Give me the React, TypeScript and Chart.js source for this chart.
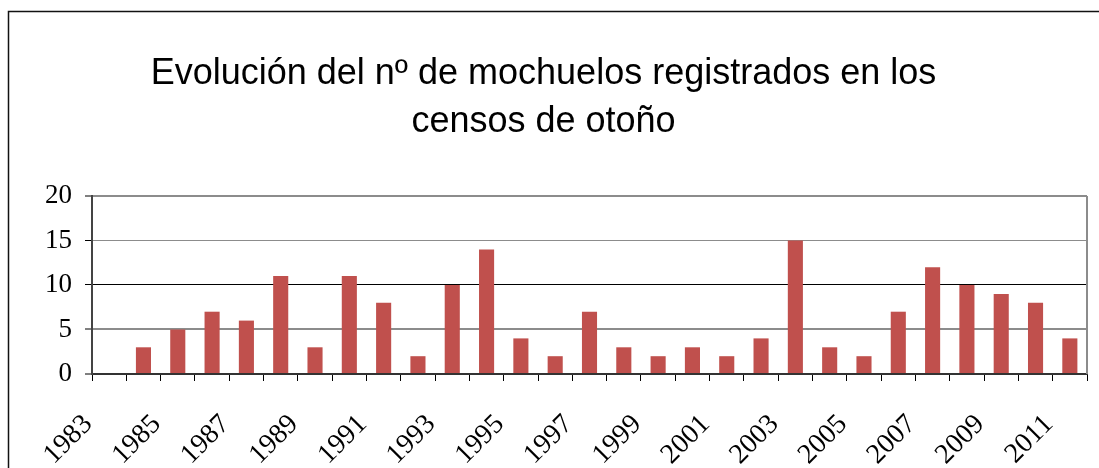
import { useEffect, useRef } from 'react';
import { Chart, registerables } from 'chart.js';

Chart.register(...registerables);

const years = [
  '1983', '1984', '1985', '1986', '1987', '1988', '1989', '1990', '1991', '1992',
  '1993', '1994', '1995', '1996', '1997', '1998', '1999', '2000', '2001', '2002',
  '2003', '2004', '2005', '2006', '2007', '2008', '2009', '2010', '2011',
];
const counts: (number | null)[] = [
  null, 3, 5, 7, 6, 11, 3, 11, 8, 2,
  10, 14, 4, 2, 7, 3, 2, 3, 2, 4,
  15, 3, 2, 7, 12, 10, 9, 8, 4,
];
const titleLines = ['Evolución del nº de mochuelos registrados en los', 'censos de otoño'];
const yMin = 0;
const yMax = 20;
const yStep = 5;

const frame = {
  id: 'frame',
  beforeDraw(chart: any) {
    const { ctx, width, height } = chart;
    ctx.save();
    ctx.fillStyle = '#fff';
    ctx.fillRect(0, 0, width, height);
    ctx.strokeStyle = '#111';
    ctx.lineWidth = 1.5;
    ctx.beginPath();
    ctx.moveTo(8.5, height + 2);
    ctx.lineTo(8.5, 11.5);
    ctx.lineTo(width + 2, 11.5);
    ctx.stroke();
    ctx.restore();
  },
  afterDraw(chart: any) {
    const { ctx, chartArea } = chart;
    ctx.save();
    ctx.strokeStyle = '#8c8c8c';
    ctx.lineWidth = 2;
    ctx.beginPath();
    ctx.moveTo(chartArea.right, chartArea.top);
    ctx.lineTo(chartArea.right, chartArea.bottom);
    ctx.stroke();
    ctx.restore();
  },
};

export default function App() {
  const ref = useRef<HTMLCanvasElement | null>(null);
  useEffect(() => {
    if (!ref.current) return;
    const chart = new Chart(ref.current, {
      type: 'bar',
      data: {
        labels: years,
        datasets: [
          {
            data: counts,
            backgroundColor: '#C0504D',
            borderWidth: 0,
            barPercentage: 0.44,
            categoryPercentage: 1,
          },
        ],
      },
      options: {
        animation: false,
        responsive: false,
        layout: { padding: { left: 0, right: 12, top: 0, bottom: 0 } },
        plugins: {
          legend: { display: false },
          tooltip: { enabled: false },
          title: {
            display: true,
            text: titleLines,
            color: '#000',
            font: { family: '"Liberation Sans", Arial, sans-serif', size: 36, weight: 'normal', lineHeight: 1.3333 },
            padding: { top: 50, bottom: 50 },
          },
        },
        scales: {
          x: {
            grid: {
              offset: true,
              drawOnChartArea: false,
              drawTicks: true,
              tickLength: 7,
              tickColor: '#000',
              tickWidth: 1,
            },
            border: { display: true, color: '#333', width: 2 },
            ticks: {
              autoSkip: false,
              minRotation: 45,
              maxRotation: 45,
              padding: 27,
              labelOffset: -21,
              color: '#000',
              font: { family: '"Liberation Serif", "Times New Roman", serif', size: 28 },
              callback: (_v: any, i: number) => (i % 2 === 0 ? years[i] : ''),
            },
            afterFit: (s: any) => {
              s.height = 94;
              s.paddingLeft = 0;
              s.paddingRight = 0;
            },
          },
          y: {
            min: yMin,
            max: yMax,
            grid: {
              color: (c: any) => (c.tick && c.tick.value === 10 ? '#000' : '#8c8c8c'),
              lineWidth: (c: any) => (c.tick && (c.tick.value === 10 || c.tick.value === 15) ? 1 : 2),
              drawTicks: true,
              tickLength: 7,
              tickColor: '#000',
              tickWidth: 1,
            },
            border: { display: true, color: '#444', width: 2 },
            ticks: {
              stepSize: yStep,
              padding: 13,
              color: '#000',
              font: { family: '"Liberation Serif", "Times New Roman", serif', size: 27 },
            },
            afterFit: (s: any) => {
              s.width = 92;
            },
          },
        },
      },
      plugins: [frame],
    } as any);
    return () => chart.destroy();
  }, []);
  return (
    <div style={{ position: 'fixed', left: 0, top: 0, width: 1099, height: 468 }}>
      <canvas ref={ref} width={1099} height={468} style={{ display: 'block' }} />
    </div>
  );
}
